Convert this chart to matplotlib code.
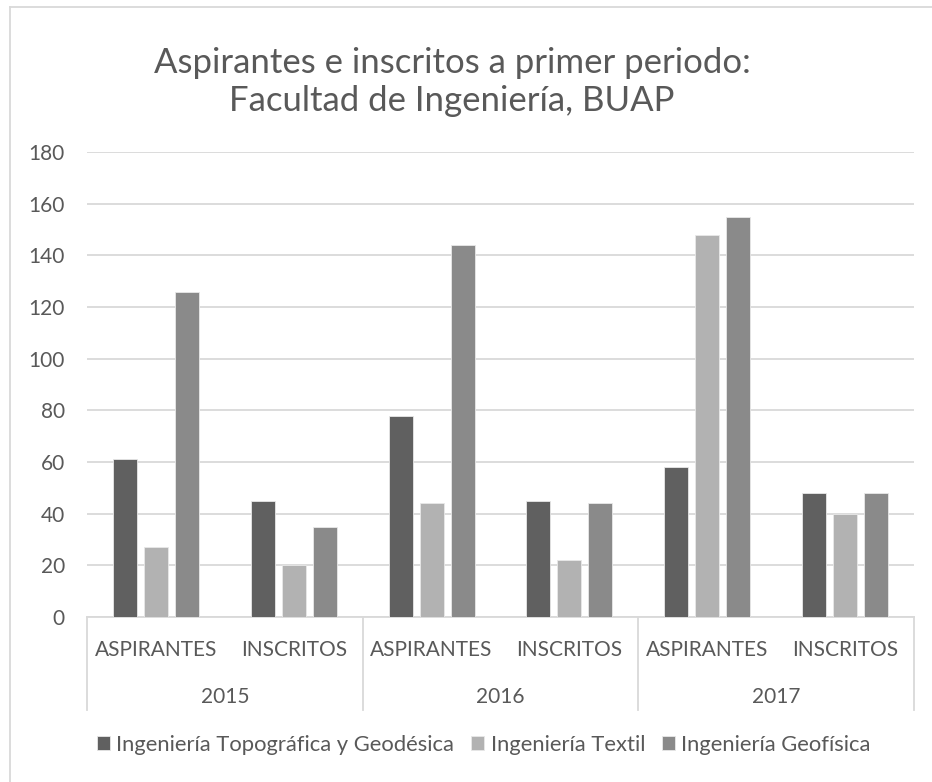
import matplotlib.pyplot as plt
from matplotlib.lines import Line2D
import numpy as np

plt.rcParams['font.family'] = ['Lato', 'DejaVu Sans']

years = ["2015", "2016", "2017"]
kinds = ["ASPIRANTES", "INSCRITOS"]
series = ["Ingeniería Topográfica y Geodésica", "Ingeniería Textil", "Ingeniería Geofísica"]

# one value per (year, kind): 2015 asp, 2015 ins, 2016 asp, ...
topografica = [61, 45, 78, 45, 58, 48]
textil = [27, 20, 44, 22, 148, 40]
geofisica = [126, 35, 144, 44, 155, 48]

colors = ["#606060", "#b2b2b2", "#8a8a8a"]
text_color = "#595959"
grid_color = "#d9d9d9"

W, H = 932, 782
fig = plt.figure(figsize=(W / 100, H / 100), dpi=100)
ax = fig.add_axes([87 / W, 1 - 617 / H, (914 - 87) / W, (617 - 152) / H])

x = np.arange(len(topografica))
bar_w = 0.175
step = 0.225
for i, (vals, c, name) in enumerate(zip([topografica, textil, geofisica], colors, series)):
    ax.bar(x + (i - 1) * step, vals, width=bar_w, color=c, edgecolor="#e8e8e8",
           linewidth=0.6, label=name, zorder=3)

fs = 15
ax.set_xlim(-0.5, len(x) - 0.5)
ax.set_ylim(0, 180)
ax.set_yticks(range(0, 181, 20))
ax.yaxis.grid(True, color=grid_color, linewidth=1.3, zorder=0)
ax.tick_params(axis='y', length=0, labelsize=fs, labelcolor=text_color, pad=16)
ax.set_xticks([])
for s in ['top', 'right', 'left']:
    ax.spines[s].set_visible(False)
ax.spines['bottom'].set_color(grid_color)
ax.spines['bottom'].set_linewidth(1.3)

# two-level category axis
for i in range(len(x)):
    ax.text(x[i], -0.071, kinds[i % 2], transform=ax.get_xaxis_transform(),
            ha='center', va='center', fontsize=fs, color=text_color)
for j, yr in enumerate(years):
    ax.text(2 * j + 0.5, -0.172, yr, transform=ax.get_xaxis_transform(),
            ha='center', va='center', fontsize=fs, color=text_color)
for sep in [-0.5, 1.5, 3.5, 5.5]:
    ax.plot([sep, sep], [0, -0.2], transform=ax.get_xaxis_transform(),
            color=grid_color, linewidth=1.3, clip_on=False)

fig.text(0.485, 1 - 63 / H, "Aspirantes e inscritos a primer periodo:",
         ha='center', va='center', fontsize=25, color=text_color)
fig.text(0.485, 1 - 101 / H, "Facultad de Ingeniería, BUAP",
         ha='center', va='center', fontsize=25, color=text_color)

fig.legend(loc='center', bbox_to_anchor=(0.519, 1 - 745 / H), ncol=3, frameon=False,
           fontsize=15.8, labelcolor=text_color, handlelength=0.6, handleheight=0.6,
           handletextpad=0.3, columnspacing=0.75)

# chart border (cut off at right and bottom)
fig.add_artist(Line2D([10 / W, 10 / W], [0, 1 - 7 / H], color=grid_color, linewidth=1.3))
fig.add_artist(Line2D([10 / W, 1], [1 - 7 / H, 1 - 7 / H], color=grid_color, linewidth=1.3))

fig.savefig("out.png", dpi=100)
